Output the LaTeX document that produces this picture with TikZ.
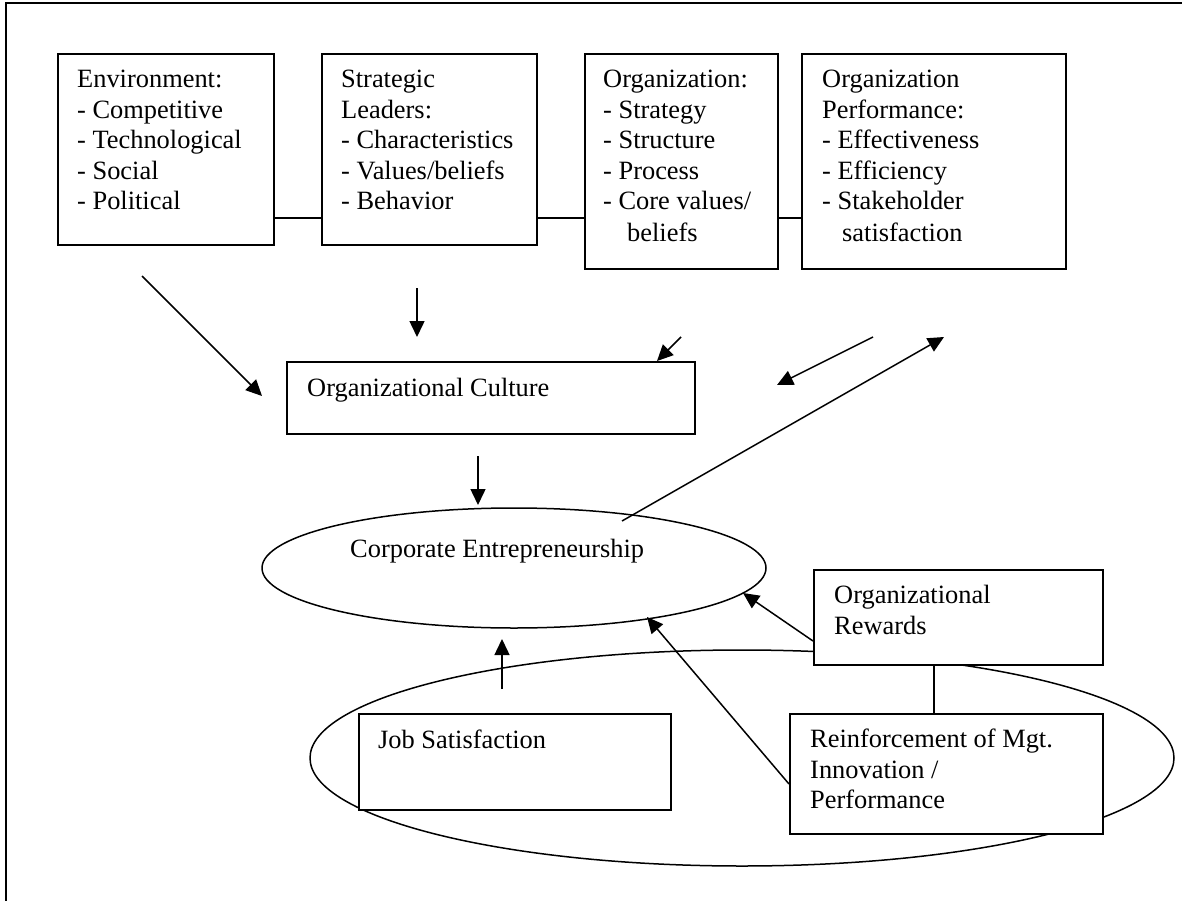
\documentclass[tikz,border=0pt]{standalone}
\usepackage{fontspec}
\setmainfont{Liberation Serif}
\usetikzlibrary{arrows.meta,shapes.geometric}
\tikzset{
  boxnode/.style={draw=black, line width=2pt, fill=white, rectangle, inner sep=0pt, anchor=north west},
  txt/.style={anchor=base west, inner sep=0pt},
  conn/.style={line width=1.5pt},
  arr/.style={line width=1.5pt, -{Triangle[length=16pt,width=15pt]}},
  ell/.style={draw=black, line width=1.5pt, ellipse, inner sep=0pt},
}
\begin{document}
\begin{tikzpicture}[x=1pt, y=-1pt, font=\fontsize{26.4}{30.5}\selectfont]
\useasboundingbox (0,0) rectangle (1182,901);
% frame
\draw[line width=2pt] (6,901) -- (6,3) -- (1182,3);

% big ellipse (drawn first, under the boxes)
\node[ell, minimum width=864pt, minimum height=216pt] (big) at (742,758) {};
% corporate entrepreneurship ellipse
\node[ell, minimum width=504pt, minimum height=120pt] (ce) at (514,568) {};

% top boxes
\node[boxnode, minimum width=216pt, minimum height=191pt] (env) at (57,53) {};
\node[boxnode, minimum width=215pt, minimum height=191pt] (lead) at (321,53) {};
\node[boxnode, minimum width=193pt, minimum height=215pt] (org) at (584,53) {};
\node[boxnode, minimum width=264pt, minimum height=215pt] (perf) at (801,53) {};
% middle / bottom boxes
\node[boxnode, minimum width=408pt, minimum height=72pt] (cult) at (286,361) {};
\node[boxnode, minimum width=289pt, minimum height=95pt] (rew) at (813,569) {};
\node[boxnode, minimum width=313pt, minimum height=120pt] (reinf) at (789,713) {};
\node[boxnode, minimum width=312pt, minimum height=96pt] (job) at (358,713) {};

% texts
\node[txt] (e1) at (77,88) {Environment:};
\node[txt] (e2) at (77,118.5) {- Competitive};
\node[txt] (e3) at (77,149) {- Technological};
\node[txt] (e4) at (77,179.5) {- Social};
\node[txt] (e5) at (77,210) {- Political};

\node[txt] (l1) at (341,88) {Strategic};
\node[txt] (l2) at (341,118.5) {Leaders:};
\node[txt] (l3) at (341,149) {- Characteristics};
\node[txt] (l4) at (341,179.5) {- Values/beliefs};
\node[txt] (l5) at (341,210) {- Behavior};

\node[txt] (o1) at (603,88) {Organization:};
\node[txt] (o2) at (603,118.5) {- Strategy};
\node[txt] (o3) at (603,149) {- Structure};
\node[txt] (o4) at (603,179.5) {- Process};
\node[txt] (o5) at (603,210) {- Core values/};
\node[txt] (o6) at (627,241) {beliefs};

\node[txt] (p1) at (822,88) {Organization};
\node[txt] (p2) at (822,118.5) {Performance:};
\node[txt] (p3) at (822,149) {- Effectiveness};
\node[txt] (p4) at (822,179.5) {- Efficiency};
\node[txt] (p5) at (822,210) {- Stakeholder};
\node[txt] (p6) at (842,241) {satisfaction};

\node[txt] (ct) at (307,396) {Organizational Culture};
\node[txt] (cet) at (350,557) {Corporate Entrepreneurship};
\node[txt] (jt) at (378,748) {Job Satisfaction};
\node[txt] (r1) at (834,603) {Organizational};
\node[txt] (r2) at (834,634) {Rewards};
\node[txt] (f1) at (810,747) {Reinforcement of Mgt.};
\node[txt] (f2) at (810,778) {Innovation /};
\node[txt] (f3) at (810,808) {Performance};

% connectors between top boxes
\coordinate (row) at (0,218);
\draw[conn] (env.east |- row) -- (lead.west |- row);
\draw[conn] (lead.east |- row) -- (org.west |- row);
\draw[conn] (org.east |- row) -- (perf.west |- row);

% free arrow ends
\coordinate (a1s) at (142,276); \coordinate (a1e) at (262,396);
\coordinate (a2s) at (417,288); \coordinate (a2e) at (417,337);
\coordinate (a3s) at (681,337); \coordinate (a3e) at (657,361);
\coordinate (a4s) at (873,337); \coordinate (a4e) at (777,385);
\coordinate (a5s) at (622,521); \coordinate (a5e) at (944,337);
\coordinate (a6s) at (478,456); \coordinate (a6e) at (478,505);
\coordinate (a7s) at (502,689); \coordinate (a7e) at (502,639);
\coordinate (a8s) at (813,641); \coordinate (a8e) at (743,593);
\coordinate (a9s) at (789,784); \coordinate (a9e) at (647,617);
\coordinate (vx) at (934,0);

\draw[arr] (a1s) -- (a1e);
\draw[arr] (a2s) -- (a2e);
\draw[arr] (a3s) -- (a3e);
\draw[arr] (a4s) -- (a4e);
\draw[arr] (a5s) -- (a5e);
\draw[arr] (a6s) -- (a6e);
\draw[arr] (a7s) -- (a7e);
\draw[arr] (rew.west |- a8s) -- (a8e);
\draw[arr] (reinf.west |- a9s) -- (a9e);
\draw[conn] (rew.south -| vx) -- (reinf.north -| vx);
\end{tikzpicture}
\end{document}
